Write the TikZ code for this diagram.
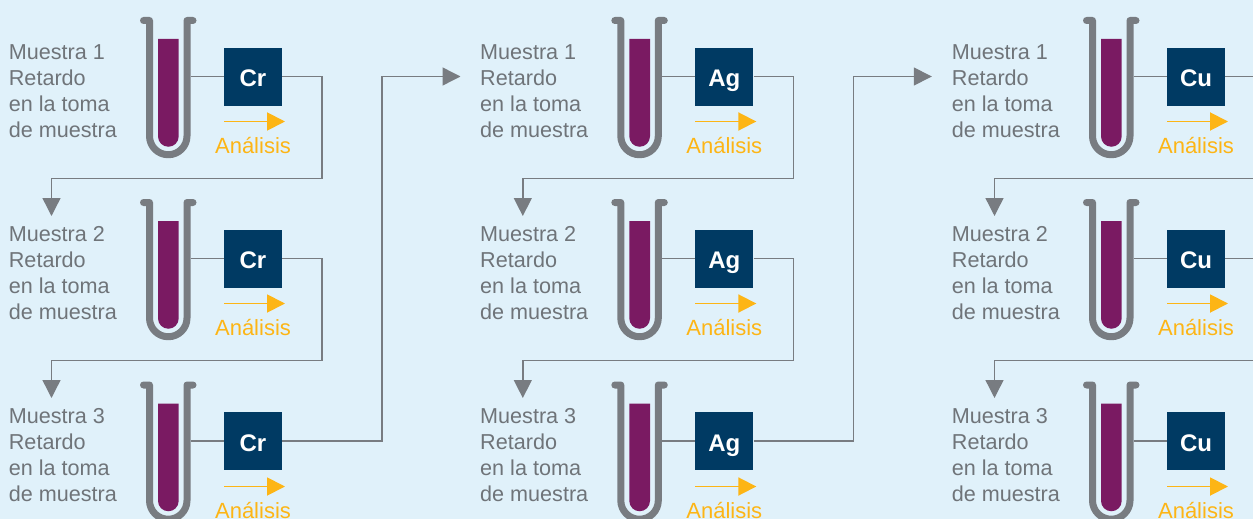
\documentclass[tikz,border=0pt]{standalone}
\usepackage{fontspec}
\setmainfont{Liberation Sans}
\usetikzlibrary{arrows.meta}
\definecolor{bgc}{HTML}{E0F1FA}
\definecolor{greyc}{HTML}{787C81}
\definecolor{txtc}{HTML}{6F7479}
\definecolor{liquid}{HTML}{7A1A62}
\definecolor{navy}{HTML}{003A63}
\definecolor{amber}{HTML}{FDB515}
\tikzset{
  wall/.style={draw=greyc,line width=7pt,line cap=round,line join=round},
  fluid/.style={fill=liquid,draw=none},
  elbox/.style={fill=navy,minimum size=58pt,inner sep=0pt,text=white,text height=17pt,text depth=0pt,font=\fontsize{24}{24}\selectfont\bfseries},
  sample/.style={anchor=north west,align=left,inner sep=0pt,text=txtc,font=\fontsize{21.6}{26}\selectfont},
  analysis/.style={inner sep=0pt,text=amber,font=\fontsize{22}{24}\selectfont},
  amberarrow/.style={draw=amber,line width=1.9pt,-{Triangle[length=18pt,width=18pt]}},
  link/.style={draw=greyc,line width=1.4pt,line join=miter},
  linkarrow/.style={link,-{Triangle[length=18pt,width=18pt]}}
}
\begin{document}
\begin{tikzpicture}[x=1pt,y=-1pt]
\useasboundingbox (0,0) rectangle (1253,519);
\clip (0,0) rectangle (1253,519);
\fill[bgc] (0,0) rectangle (1253,519);
\foreach \c/\dx/\el in {1/0/Cr,2/471.3/Ag,3/943/Cu}{
  \foreach \r/\dy/\dt in {1/0/0,2/182/182,3/364.5/365}{
    \begin{scope}[shift={(\dx,\dy)}]
      \path[fluid] (158,39) -- (178.7,39) -- (178.7,136.4) arc[start angle=0,end angle=180,radius=10.35] -- cycle;
      \draw[wall] (143.5,20.5) -- (149.5,20.5) -- (149.5,136) arc[start angle=180,end angle=0,radius=18.75] -- (187,20.5) -- (193,20.5);
      \coordinate (tube-\c-\r) at (190.5,76.5);
      \node[elbox] (box-\c-\r) at (253,76.8) {\raisebox{-1.6pt}{\el}};
      \node[sample] (lab-\c-\r) at (8.7,44.2) {Muestra \r\\Retardo\\en la toma\\de muestra};
      \coordinate (a-\c-\r) at (224,121.5+\dt-\dy);
      \coordinate (b-\c-\r) at (285,121.5+\dt-\dy);
      \draw[amberarrow] (a-\c-\r) -- (b-\c-\r);
      \node[analysis] (an-\c-\r) at (253,146) {Análisis};
      \coordinate (right-\c-\r) at (322,76.5);
      \coordinate (turn-\c-\r) at (322,178.5);
      \coordinate (back-\c-\r) at (51.5,178.5);
      \coordinate (tip-\c-\r) at (51.5,216);
      \coordinate (out-\c-\r) at (382,76.5);
      \coordinate (in-\c-\r) at (460.5,76.5);
    \end{scope}
    \draw[link] (tube-\c-\r) -- (box-\c-\r.west |- tube-\c-\r);
  }
  \foreach \r in {1,2}{
    \draw[linkarrow] (box-\c-\r.east |- right-\c-\r) -- (right-\c-\r) -- (turn-\c-\r) -- (back-\c-\r) -- (tip-\c-\r);
  }
}
\foreach \c in {1,2}{
  \draw[linkarrow] (box-\c-3.east |- out-\c-3) -- (out-\c-3) -- (out-\c-1) -- (in-\c-1);
}
\end{tikzpicture}
\end{document}
